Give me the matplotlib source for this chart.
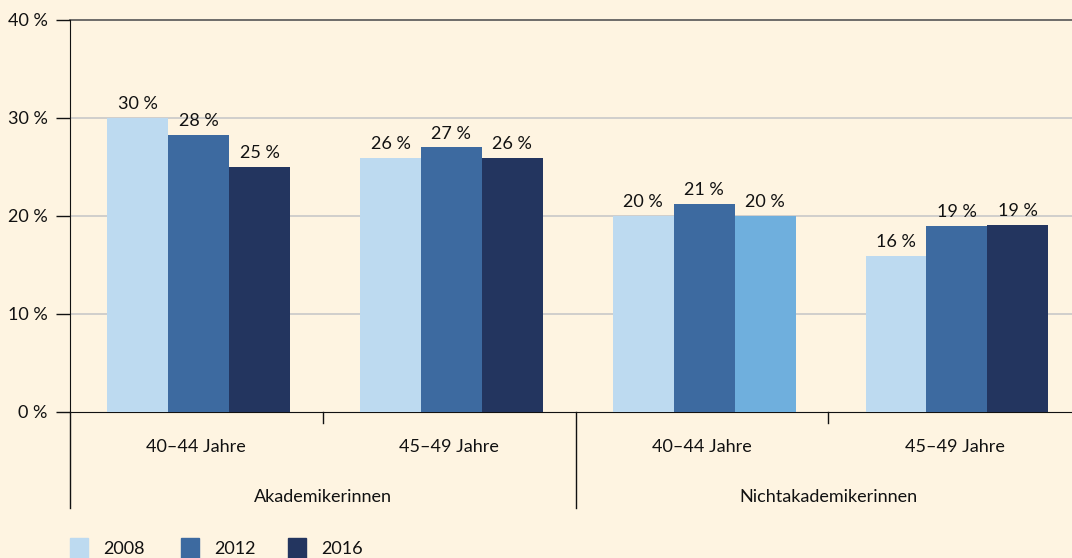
import matplotlib.pyplot as plt
import matplotlib.transforms as mtransforms
import numpy as np

plt.rcParams['font.family'] = ['Lato', 'DejaVu Sans']

# Data
groups = ['Akademikerinnen', 'Nichtakademikerinnen']
ages = ['40–44 Jahre', '45–49 Jahre', '40–44 Jahre', '45–49 Jahre']
years = ['2008', '2012', '2016']
v2008 = [30.0, 25.9, 20.0, 15.9]
v2012 = [28.3, 27.0, 21.2, 19.0]
v2016 = [25.0, 25.9, 20.0, 19.1]
labels2008 = ['30 %', '26 %', '20 %', '16 %']
labels2012 = ['28 %', '27 %', '21 %', '19 %']
labels2016 = ['25 %', '26 %', '20 %', '19 %']
yticks = [0, 10, 20, 30, 40]

bg = '#fef4e1'
ink = '#111111'
colors = ['#bddaf0', '#3d6aa0', '#23355f']
special = '#6fafdd'   # 2016 bar of Nichtakademikerinnen 40-44 is drawn lighter
fs = 13

fig = plt.figure(figsize=(10.72, 5.58), dpi=100, facecolor=bg)
# axes slightly wider than the figure, the last group is cut at the right edge
ax = fig.add_axes([70 / 1072, 146 / 558, 1011 / 1072, 392 / 558], facecolor=bg)

x = np.arange(len(ages))
w = 0.241
off = 0.009
series = [(v2008, labels2008), (v2012, labels2012), (v2016, labels2016)]
for i, (vals, labs) in enumerate(series):
    cols = [colors[i]] * len(vals)
    if i == 2:
        cols[2] = special
    pos = x + off + (i - 1) * w
    ax.bar(pos, vals, width=w, color=cols, zorder=3, label=years[i])
    for xp, v, t in zip(pos, vals, labs):
        ax.text(xp, v + 0.6, t, ha='center', va='bottom', fontsize=fs, color=ink)

ax.set_xlim(-0.5, 3.5)
ax.set_ylim(0, 40)
ax.set_yticks(yticks)
ax.set_yticklabels(['%d %%' % t for t in yticks], fontsize=fs, color=ink)
ax.tick_params(axis='y', length=10, width=1, color=ink, pad=6)
ax.tick_params(axis='x', length=0, labelbottom=False)
for y in [10, 20, 30]:
    ax.axhline(y, color='#c8c8c8', lw=1.2, zorder=1)
ax.axhline(40, color='#555555', lw=1.2, zorder=1, clip_on=False)

for s in ['top', 'right']:
    ax.spines[s].set_visible(False)
ax.spines['left'].set_color(ink)
ax.spines['bottom'].set_color(ink)
ax.spines['left'].set_bounds(0, 40)

trans = mtransforms.blended_transform_factory(ax.transData, ax.transAxes)
# extend left axis below
ax.plot([-0.5, -0.5], [0, -96 / 392], transform=trans, color=ink, lw=1, clip_on=False)
# separators
for xs, length in [(0.5, 11), (1.5, 96), (2.5, 11)]:
    ax.plot([xs, xs], [0, -length / 392], transform=trans, color=ink, lw=1, clip_on=False)

for xp, t in zip(x, ages):
    ax.text(xp, -35 / 392, t, transform=trans, ha='center', va='center', fontsize=fs, color=ink)
for xp, t in zip([0.5, 2.5], groups):
    ax.text(xp, -85 / 392, t, transform=trans, ha='center', va='center', fontsize=fs, color=ink)

# legend
for i, yr in enumerate(years):
    x0 = [70, 181, 288][i]
    fig.patches.append(plt.Rectangle((x0 / 1072, 0), 18 / 1072, 20 / 558,
                                     transform=fig.transFigure, color=colors[i]))
    fig.text((x0 + 33) / 1072, 9 / 558, yr, ha='left', va='center', fontsize=fs, color=ink)

fig.savefig('out.png', dpi=100, facecolor=bg)
